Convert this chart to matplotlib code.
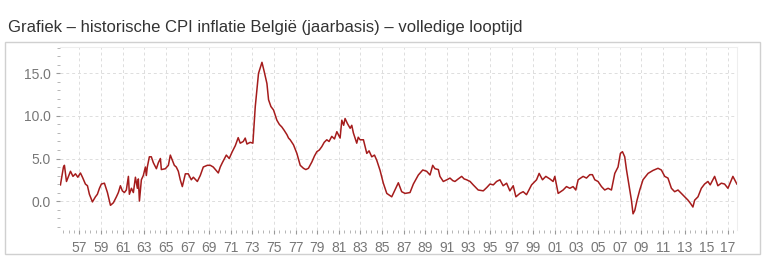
import numpy as np
import matplotlib.pyplot as plt
import matplotlib.patches as mpatches
from matplotlib.ticker import MultipleLocator, FuncFormatter

plt.rcParams['font.family'] = ['Liberation Sans', 'DejaVu Sans']

# ── Data ────────────────────────────────────────────────────
years = [
    1955.24, 1955.52, 1955.61, 1955.80, 1956.17, 1956.40, 1956.63, 1956.85, 1957.09, 1957.28,
    1957.55, 1957.74, 1957.92, 1958.20, 1958.48, 1958.66, 1958.85, 1959.03, 1959.31, 1959.59,
    1959.68, 1959.87, 1960.14, 1960.42, 1960.60, 1960.79, 1960.97, 1961.16, 1961.34, 1961.53,
    1961.62, 1961.81, 1961.99, 1962.18, 1962.36, 1962.45, 1962.55, 1962.73, 1962.91, 1963.10,
    1963.19, 1963.28, 1963.47, 1963.65, 1963.84, 1964.12, 1964.30, 1964.49, 1964.58, 1964.95,
    1965.23, 1965.41, 1965.60, 1965.78, 1965.96, 1966.15, 1966.33, 1966.52, 1966.80, 1967.07,
    1967.35, 1967.54, 1967.91, 1968.18, 1968.46, 1968.83, 1969.11, 1969.38, 1969.85, 1970.03,
    1970.22, 1970.59, 1970.86, 1971.14, 1971.42, 1971.69, 1971.88, 1972.16, 1972.34, 1972.50,
    1972.80, 1973.05, 1973.27, 1973.57, 1973.89, 1974.10, 1974.35, 1974.50, 1974.72, 1974.96,
    1975.12, 1975.27, 1975.50, 1975.73, 1975.95, 1976.20, 1976.35, 1976.50, 1976.81, 1977.12,
    1977.43, 1977.73, 1977.95, 1978.19, 1978.51, 1978.75, 1978.97, 1979.20, 1979.43, 1979.65,
    1979.89, 1980.10, 1980.35, 1980.60, 1980.82, 1981.12, 1981.28, 1981.45, 1981.58, 1981.80,
    1982.05, 1982.20, 1982.35, 1982.66, 1982.80, 1982.97, 1983.28, 1983.59, 1983.80, 1984.05,
    1984.30, 1984.51, 1984.82, 1985.12, 1985.44, 1985.90, 1986.20, 1986.51, 1986.82, 1987.13,
    1987.59, 1987.90, 1988.36, 1988.77, 1989.13, 1989.44, 1989.69, 1989.90, 1990.21, 1990.36,
    1990.67, 1991.00, 1991.29, 1991.55, 1991.75, 1992.05, 1992.37, 1992.60, 1992.83, 1993.15,
    1993.44, 1993.90, 1994.37, 1994.70, 1994.99, 1995.30, 1995.60, 1995.91, 1996.21, 1996.53,
    1996.83, 1997.14, 1997.39, 1997.76, 1998.06, 1998.37, 1998.84, 1999.30, 1999.54, 1999.85,
    2000.16, 2000.53, 2000.83, 2000.99, 2001.30, 2001.76, 2002.07, 2002.38, 2002.68, 2002.93,
    2003.15, 2003.61, 2003.92, 2004.23, 2004.47, 2004.69, 2004.99, 2005.31, 2005.61, 2005.92,
    2006.23, 2006.54, 2006.84, 2007.06, 2007.25, 2007.46, 2007.62, 2007.86, 2008.08, 2008.23,
    2008.39, 2008.60, 2008.85, 2009.15, 2009.62, 2010.08, 2010.54, 2010.85, 2011.16, 2011.46,
    2011.78, 2012.08, 2012.39, 2012.70, 2013.01, 2013.32, 2013.56, 2013.77, 2013.93, 2014.24,
    2014.55, 2014.85, 2015.16, 2015.37, 2015.78, 2016.08, 2016.40, 2016.70, 2017.01, 2017.47,
    2017.84,
]
inflatie = [
    1.9, 4.0, 4.2, 2.3, 3.5, 2.9, 3.2, 2.8, 3.3, 2.8,
    2.0, 1.8, 0.8, -0.1, 0.5, 0.8, 1.5, 2.0, 2.1, 1.0,
    0.5, -0.5, -0.2, 0.5, 1.0, 1.8, 1.2, 1.0, 1.3, 2.9,
    0.8, 1.5, 1.0, 2.8, 1.5, 2.6, 0.0, 2.5, 3.0, 4.0,
    3.0, 4.0, 5.2, 5.2, 4.5, 3.8, 4.5, 5.0, 3.7, 3.8,
    4.2, 5.4, 4.8, 4.2, 4.0, 3.5, 2.5, 1.7, 3.2, 3.2,
    2.5, 2.8, 2.3, 3.0, 4.0, 4.2, 4.2, 4.0, 3.3, 4.0,
    4.5, 5.4, 5.0, 5.8, 6.5, 7.45, 6.8, 7.0, 7.4, 6.7,
    6.9, 6.8, 11.1, 15.0, 16.3, 15.2, 13.8, 11.9, 11.1, 10.7,
    10.1, 9.5, 9.0, 8.7, 8.3, 7.8, 7.4, 7.2, 6.6, 5.6,
    4.2, 3.85, 3.7, 3.85, 4.6, 5.3, 5.8, 6.0, 6.4, 6.9,
    7.2, 7.0, 7.6, 7.3, 8.15, 7.4, 9.5, 8.9, 9.7, 9.1,
    8.55, 8.9, 8.0, 6.8, 7.5, 7.2, 7.2, 5.6, 5.9, 5.2,
    5.4, 4.8, 3.6, 2.1, 0.9, 0.5, 1.3, 2.15, 1.1, 0.9,
    1.0, 2.0, 3.06, 3.65, 3.5, 3.06, 4.2, 3.8, 3.7, 2.9,
    2.3, 2.5, 2.7, 2.4, 2.3, 2.6, 2.9, 2.6, 2.5, 2.3,
    1.9, 1.3, 1.2, 1.6, 2.0, 1.9, 2.3, 2.5, 1.8, 2.1,
    1.2, 1.8, 0.5, 0.9, 1.1, 0.75, 1.9, 2.5, 3.25, 2.5,
    2.9, 2.6, 2.3, 2.9, 0.9, 1.3, 1.7, 1.5, 1.7, 1.3,
    2.5, 2.9, 2.7, 3.1, 3.1, 2.5, 2.3, 1.7, 1.3, 1.5,
    1.3, 3.25, 4.0, 5.6, 5.8, 5.2, 3.7, 1.8, 0.1, -1.5,
    -1.1, 0.1, 1.3, 2.5, 3.25, 3.6, 3.85, 3.65, 2.9, 2.7,
    1.5, 1.1, 1.3, 0.9, 0.5, 0.1, -0.3, -0.7, 0.1, 0.5,
    1.5, 2.0, 2.3, 1.9, 2.9, 1.8, 2.1, 2.0, 1.5, 2.9,
    2.0,
]
y_ticks = [0.0, 5.0, 10.0, 15.0]
titel = "Grafiek \u2013 historische CPI inflatie Belgi\u00eb (jaarbasis) \u2013 volledige looptijd"

# ── Figuur ───────────────────────────────────────────────────
fig = plt.figure(figsize=(7.68, 2.66), dpi=100)
fig.text(8 / 768, 1 - 32 / 266, titel, fontsize=12, color='#333333',
         ha='left', va='baseline')

# grijze kader rond grafiek
fig.patches.append(mpatches.Rectangle((5 / 768, 1 - 254 / 266), 755 / 768, 212 / 266,
                                      transform=fig.transFigure, fill=False,
                                      edgecolor='#d0d0d0', linewidth=1))

ax = fig.add_axes([60 / 768, 1 - 230 / 266, 677 / 768, 183 / 266])
ax.plot(years, inflatie, color='#a51c1c', linewidth=1.1)

ax.set_xlim(1955.2, 2017.85)
ax.set_ylim(-3.4, 18.1)

ax.set_yticks(y_ticks)
ax.yaxis.set_major_formatter(FuncFormatter(lambda v, p: f'{v:.1f}'))
ax.yaxis.set_minor_locator(MultipleLocator(1.0))
ax.set_xticks(np.arange(1957, 2018, 2))
ax.xaxis.set_major_formatter(FuncFormatter(lambda v, p: f'{int(round(v)) % 100:02d}'))
ax.xaxis.set_minor_locator(MultipleLocator(0.5))

ax.tick_params(axis='both', which='major', colors='#999999', labelcolor='#777777',
               labelsize=10, length=3, width=0.8)
ax.tick_params(axis='both', which='minor', colors='#aaaaaa', length=2, width=0.6)
ax.tick_params(axis='x', which='major', pad=5)

ax.grid(True, which='major', color='#dddddd', linestyle=(0, (3, 3)), linewidth=0.7)
for side in ['top', 'right']:
    ax.spines[side].set_color('#eeeeee')
    ax.spines[side].set_linewidth(0.8)
for side in ['left', 'bottom']:
    ax.spines[side].set_visible(False)

plt.savefig('out.png', dpi=100)
